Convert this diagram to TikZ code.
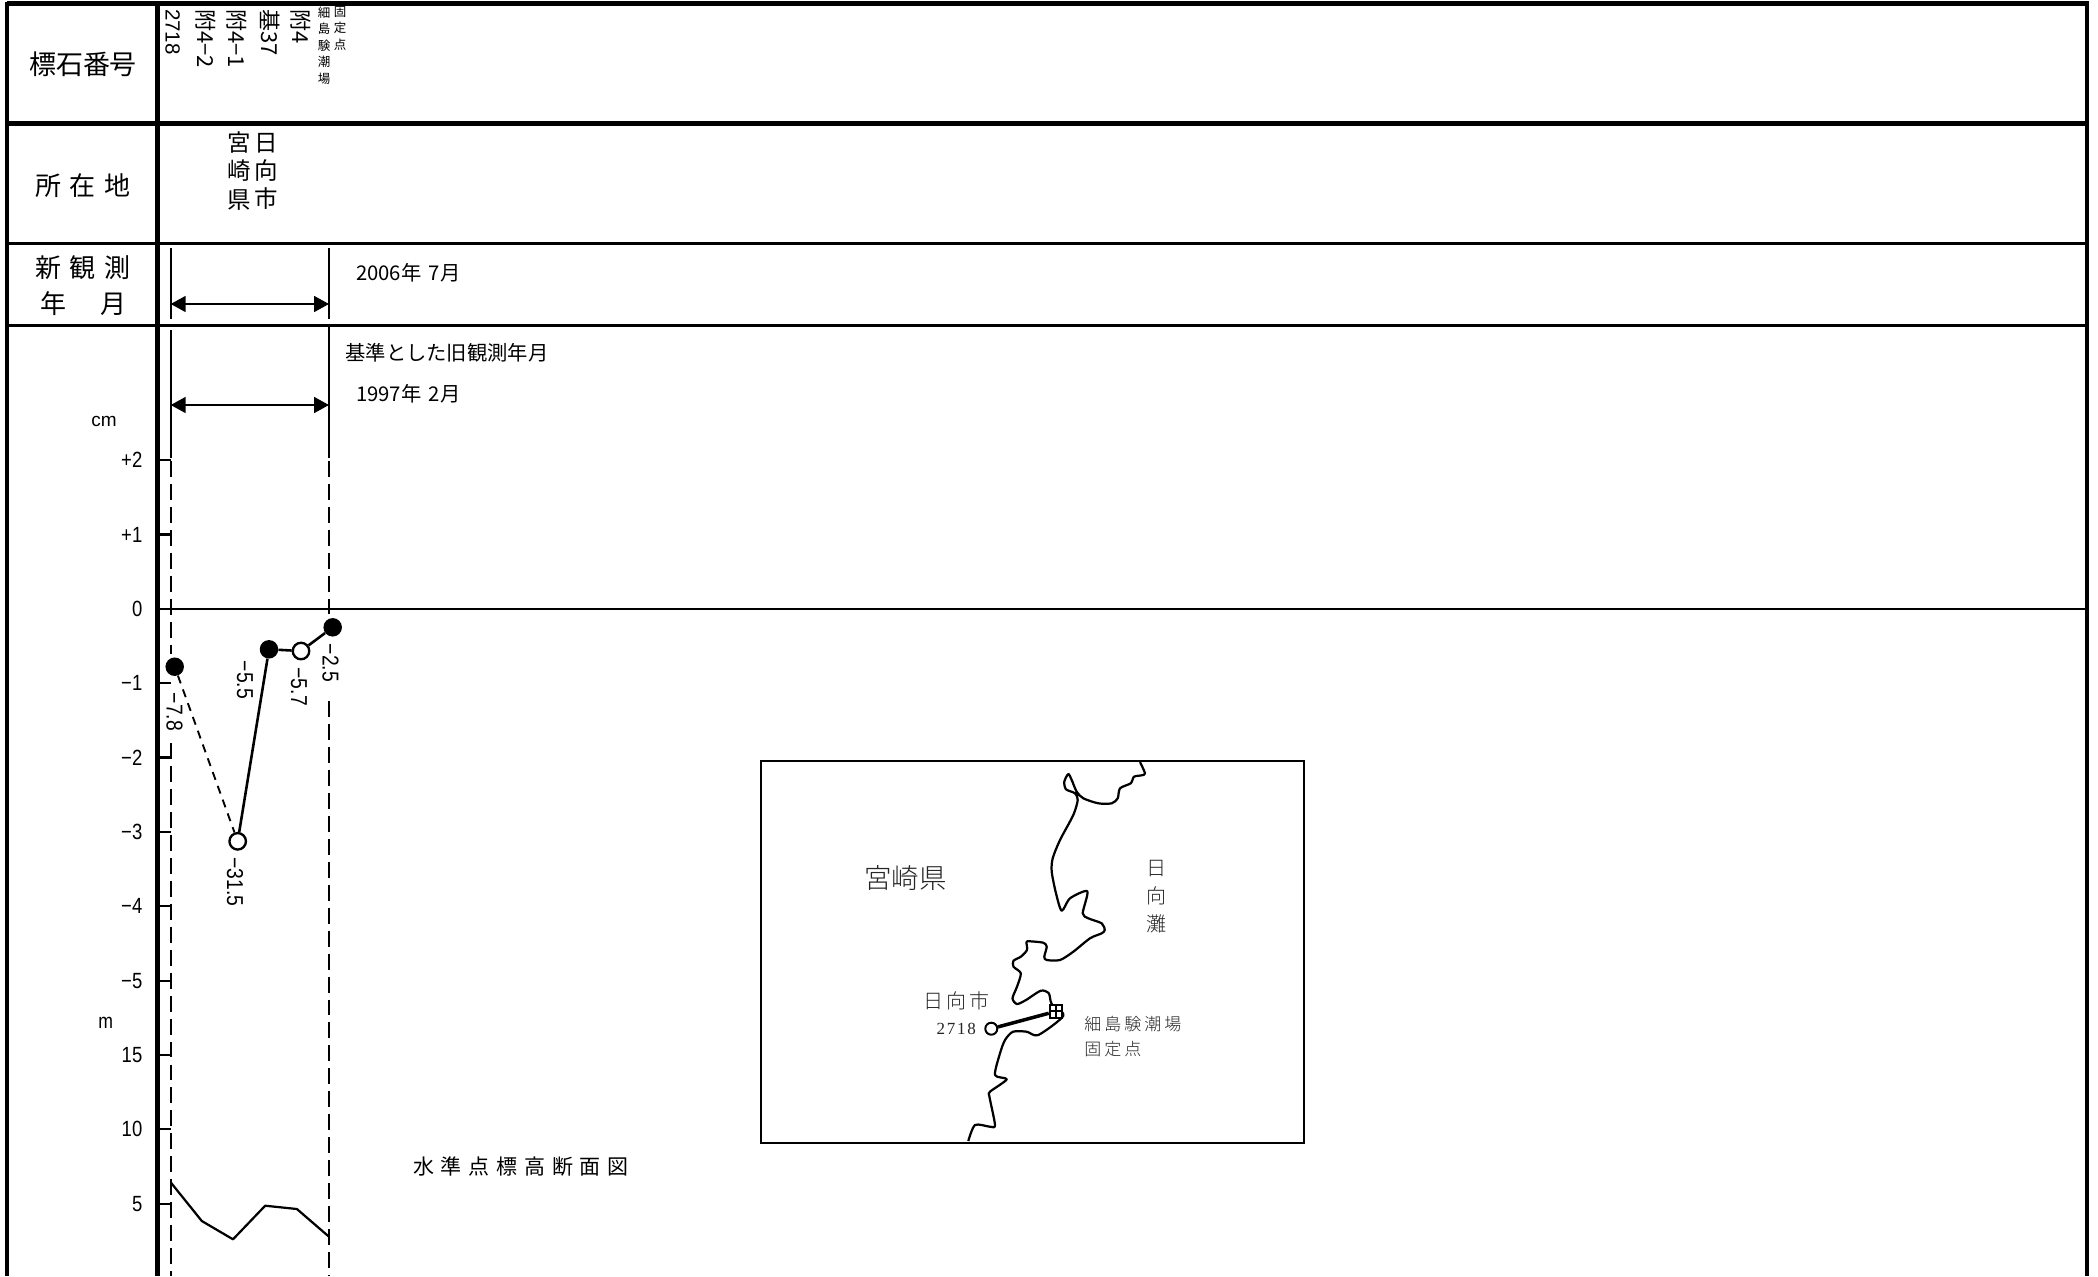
\documentclass[tikz,border=0pt]{standalone}
\usepackage{fontspec}
\usetikzlibrary{arrows.meta}
\setmainfont{Noto Sans CJK JP}
\newfontfamily\jpthin{Noto Sans CJK JP Light}
\newfontfamily\latn{Liberation Sans}
\newfontfamily\narr[FakeStretch=0.84]{Liberation Sans}
\newfontfamily\serf{Liberation Serif}
\newlength\pxu \setlength\pxu{0.8535pt}
\newcommand\fz[1]{\fontsize{#1\pxu}{#1\pxu}\selectfont}
\newcommand\gp[1]{\hspace{#1\pxu}}
\tikzset{
  txt/.style={inner sep=0pt,outer sep=0pt},
  head/.style={txt,font=\fz{26}},
  place/.style={txt,font=\fz{23.5}},
  pid/.style={txt,font=\fz{22},rotate=-90,anchor=west},
  tiny/.style={txt,font=\fz{12.5},align=center},
  date/.style={txt,font=\fz{20.3},anchor=west},
  axl/.style={txt,font=\narr\fz{22},anchor=east},
  unitl/.style={txt,font=\latn\fz{19}},
  val/.style={txt,font=\narr\fz{23},rotate=-90},
  mapl/.style={txt,font=\jpthin\fz{18},text=black!85},
  frame/.style={line width=4pt},
  rule/.style={line width=2.2pt},
  tick/.style={line width=1.9pt},
  ext/.style={line width=1.9pt},
  extd/.style={line width=1.9pt,dash pattern=on 13.6pt off 6pt},
  dim/.style={line width=1.7pt,{Triangle[length=12.8pt,width=13.6pt]}-{Triangle[length=12.8pt,width=13.6pt]}},
  full/.style={circle,fill=black,draw=none,minimum size=18.5*0.8535pt,inner sep=0pt},
  open/.style={circle,fill=white,draw=black,line width=2pt,minimum size=16.5*0.8535pt,inner sep=0pt},
  link/.style={line width=2.2pt},
  dlink/.style={line width=1.6pt,dash pattern=on 7pt off 5.5pt},
  coast/.style={line width=1.9pt,line join=round},
}
\begin{document}
\begin{tikzpicture}[x=0.03cm,y=-0.03cm]
\useasboundingbox (0,0) rectangle (2098,1276);
\fill[white] (0,0) rectangle (2098,1276);
% frame
\coordinate (tl) at (7,3.5); \coordinate (tr) at (2089,3.5);
\coordinate (tm) at (157.6,3.5);
\coordinate (bl) at (7,1276); \coordinate (bm) at (157.6,1276); \coordinate (br) at (2087.3,1276);
\coordinate (trv) at (2087.3,3.5);
\draw[line width=3.6pt] (tl) -- (tr);
\draw[frame] (bl) -- (7,1.5);
\draw[frame] (bm) -- (tm);
\draw[line width=3.2pt] (br) -- (trv);
\draw[line width=4pt] (7,123.5) -- (2089,123.5);
\draw[rule] (7,243.7) -- (2087,243.7);
\draw[rule] (7,325.6) -- (2087,325.6);
\draw[rule] (157.6,609) -- (2087,609);
% left column
\node[head,font=\fz{27}] (hA) at (83,64.7) {標石番号};
\node[head] (hB) at (83,186) {所\gp{9}在\gp{9}地};
\node[head] (hC) at (83,268) {新\gp{9}観\gp{9}測};
\node[head] (hD1) at (53,304) {年};
\node[head] (hD2) at (113,304) {月};
% station ids
\node[pid,font=\latn\fz{20.5}] (s1) at (172.7,9) {2718};
\node[pid] (s2) at (205.5,9) {附4−2};
\node[pid] (s3) at (237,9) {附4−1};
\node[pid] (s4) at (270,9) {基37};
\node[pid] (s5) at (300.5,9) {附4};
\node[tiny,anchor=north] (s6a) at (324,6.5) {細\\[4\pxu]島\\[4\pxu]験\\[4\pxu]潮\\[4\pxu]場};
\node[tiny,anchor=north] (s6b) at (340,6.5) {固\\[4\pxu]定\\[4\pxu]点};
% place
\node[place,align=center] (p1) at (239,171) {宮\\[4.6\pxu]崎\\[4.6\pxu]県};
\node[place,align=center] (p2) at (266.7,171) {日\\[4.6\pxu]向\\[4.6\pxu]市};
% dates
\node[date] (d1) at (356,272.5) {2006年\gp{3} 7月};
\node[date] (d2) at (345.5,352.7) {基準とした旧観測年月};
\node[date] (d3) at (356,393.8) {1997年\gp{3} 2月};
% extension lines
\coordinate (e1a) at (170.7,248); \coordinate (e1b) at (170.7,319);
\coordinate (e2a) at (329,248); \coordinate (e2b) at (329,319);
\coordinate (f1a) at (170.7,330); \coordinate (f1b) at (170.7,458);
\coordinate (f2a) at (329,327); \coordinate (f2b) at (329,458);
\draw[ext] (e1a) -- (e1b); \draw[ext] (e2a) -- (e2b);
\draw[ext] (f1a) -- (f1b); \draw[ext] (f2a) -- (f2b);
\draw[dim] (e1a |- 0,304) -- (e2a |- 0,304);
\draw[dim] (f1a |- 0,405) -- (f2a |- 0,405);
\draw[extd] (170.7,461) -- (170.7,654);
\draw[extd] (170.7,743) -- (170.7,1276);
\draw[extd] (329,461) -- (329,614);
\draw[extd] (329,701) -- (329,1276);
% ticks and axis labels
\foreach \yy/\lab in {460.3/+2,534.5/+1,683.3/−1,757.5/−2,831.7/−3,906/−4,981/−5,1055/15,1129.3/10,1203.7/5}{
  \draw[tick] (160,\yy) -- (170.7,\yy);
  \node[axl] at (142.3,\yy) {\lab};
}
\node[axl] (ax0) at (142.3,609) {0};
\node[unitl] (ucm) at (104,421.7) {cm};
\node[unitl,font=\narr\fz{21}] (um) at (105.6,1023) {m};
% measured points
\node[full] (A) at (174.7,666.7) {};
\node[open] (E) at (237.7,841.3) {};
\node[full] (B) at (269,649.3) {};
\node[open] (C) at (301,651) {};
\node[full] (D) at (332.7,627.3) {};
\draw[dlink] (A) -- (E);
\draw[link] (E) -- (B);
\draw[link] (B) -- (C);
\draw[link] (C) -- (D);
\node[val] (vA) at (174.5,712) {−7.8};
\node[val] (vE) at (235,882) {−31.5};
\node[val] (vB) at (244.8,680) {−5.5};
\node[val] (vC) at (298.8,686.7) {−5.7};
\node[val] (vD) at (330.5,663) {−2.5};
% elevation profile
\coordinate (g1) at (171,1182.7); \coordinate (g2) at (201.8,1221); \coordinate (g3) at (233,1239.3);
\coordinate (g4) at (265.2,1205.7); \coordinate (g5) at (296.9,1209); \coordinate (g6) at (329,1236.7);
\draw[line width=1.9pt,line join=round] (g1) -- (g2) -- (g3) -- (g4) -- (g5) -- (g6);
\node[txt,font=\fz{21}] (ttl) at (521,1166.7) {水\gp{6.8}準\gp{6.8}点\gp{6.8}標\gp{6.8}高\gp{6.8}断\gp{6.8}面\gp{6.8}図};
% location map
\node[draw,line width=1.7pt,inner sep=0pt,minimum width=543*0.8535pt,minimum height=381.5*0.8535pt,anchor=north west] (mapbox) at (760,760.2) {};
\draw[coast] plot[smooth,tension=0.45] coordinates {
(1140,762)(1145,773.3)(1141.7,775.3)(1134,776.7)(1130.7,783.3)(1120,788.3)(1117.7,798.3)(1111.7,803.3)(1098.3,803.3)(1083.3,798.3)(1076.7,791.7)(1071.7,780)(1068.3,774)(1064.3,781.7)(1066,789.3)(1075,793.3)(1077.7,800)(1073.3,815)(1060,840)(1052.7,858.3)(1051.7,871.7)(1056,893.3)(1061.7,910.7)(1070,898.3)(1087.3,891.3)(1082.7,913.3)(1088.3,918.3)(1101.7,923.3)(1104.7,930)(1101.7,933.3)(1090,938.3)(1073.3,951.7)(1060,960)(1046.7,960)(1044.3,956.7)(1046.7,946.7)(1043.3,942.7)(1030,941.3)(1026.5,942)(1027,950)(1020.8,956.7)(1013.5,960.7)(1013.5,966.7)(1020.8,973.3)(1017,986.7)(1012.5,998.3)(1017,1004)(1026,1000)(1040.8,990.7)(1048.8,993.3)(1051.7,1004)(1063.3,1015.7)(1038.3,1035)(1026.7,1031.7)(1013,1031.7)(1005,1040)(1000,1053.3)(995,1075)(1006.7,1079.3)(990,1091.7)(989.5,1097)(995,1125)(990,1126.7)(975,1125)(968.3,1141)};
\node[draw,fill=white,line width=1.7pt,minimum size=12.5*0.8535pt,inner sep=0pt] (sq) at (1056,1011.3) {};
\draw[line width=1.4pt] (sq.north) -- (sq.south);
\draw[line width=1.4pt] (sq.west) -- (sq.east);
\node[circle,draw,fill=white,line width=1.7pt,minimum size=12*0.8535pt,inner sep=0pt] (st) at (991.3,1028.7) {};
\draw[line width=3pt] (st) -- (sq);
\node[mapl,font=\jpthin\fz{27.5}] (m1) at (905.5,877.6) {宮崎県};
\node[mapl,font=\jpthin\fz{20},align=center] (m2) at (1156,896.5) {日\\[8\pxu]向\\[8\pxu]灘};
\node[mapl,font=\jpthin\fz{20},anchor=west] (m3) at (923.5,1000.7) {日\gp{3.2}向\gp{3.2}市};
\node[mapl,font=\serf\fz{17},anchor=west] (m4) at (936.5,1029.3) {2\gp{1.8}7\gp{1.8}1\gp{1.8}8};
\node[mapl,font=\jpthin\fz{17},anchor=west] (m5) at (1084.4,1024) {細\gp{3}島\gp{3}験\gp{3}潮\gp{3}場};
\node[mapl,font=\jpthin\fz{17},anchor=west] (m6) at (1084.4,1049.3) {固\gp{3}定\gp{3}点};
\end{tikzpicture}
\end{document}
